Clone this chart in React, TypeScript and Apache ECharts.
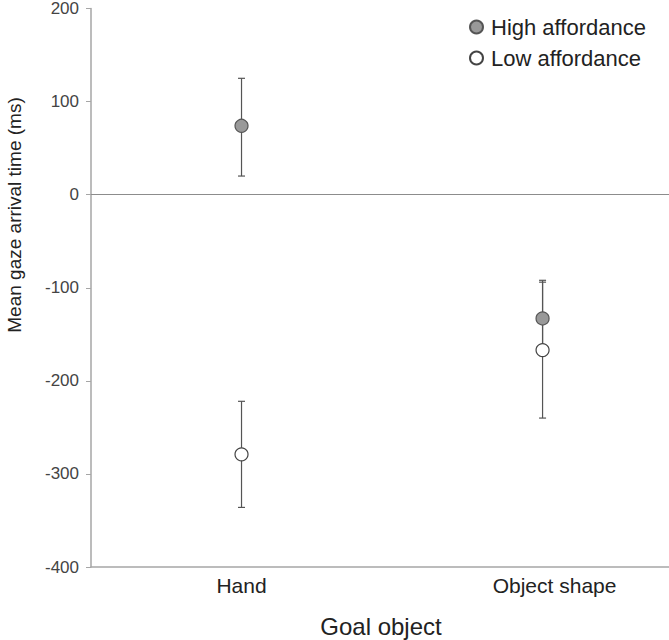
import React, { useEffect, useRef } from "react";
import * as echarts from "echarts";

const categories = ["Hand", "Object shape"];
const seriesNames = ["High affordance", "Low affordance"];
const highMeans = [74, -133];
const highLower = [20, -173];
const highUpper = [125, -92];
const lowMeans = [-279, -167];
const lowLower = [-336, -240];
const lowUpper = [-222, -94];
const yTicks = { min: -400, max: 200, interval: 100 };

const FONT = "'Liberation Sans', Arial, sans-serif";

export default function App() {
  const ref = useRef<HTMLDivElement>(null);
  useEffect(() => {
    if (!ref.current) return;
    const chart = echarts.init(ref.current, null, { renderer: "svg" });
    const errData = (lo: number[], hi: number[]) =>
      categories.map((_, i) => [i, lo[i], hi[i]]);
    const renderErr = (params: any, api: any) => {
      const x = api.value(0);
      const top = api.coord([x, api.value(2)]);
      const bot = api.coord([x, api.value(1)]);
      const cap = 3.5;
      const style = { stroke: "#555", lineWidth: 1.2 };
      return {
        type: "group",
        children: [
          { type: "line", shape: { x1: top[0], y1: top[1], x2: bot[0], y2: bot[1] }, style },
          { type: "line", shape: { x1: top[0] - cap, y1: top[1], x2: top[0] + cap, y2: top[1] }, style },
          { type: "line", shape: { x1: bot[0] - cap, y1: bot[1], x2: bot[0] + cap, y2: bot[1] }, style },
        ],
      };
    };
    chart.setOption({
      animation: false,
      textStyle: { fontFamily: FONT },
      grid: { left: 91, top: 5, right: 0, bottom: 73 },
      legend: {
        orient: "vertical",
        left: 464,
        top: 11,
        itemWidth: 13,
        itemHeight: 13,
        itemGap: 9,
        icon: "circle",
        data: seriesNames,
        textStyle: { fontSize: 22, color: "#222", fontFamily: FONT, padding: [0, 0, 0, 3] },
      },
      xAxis: {
        type: "value",
        min: -0.5,
        max: 1.42,
        position: "bottom",
        axisLine: { onZero: false, lineStyle: { color: "#a6a6a6", width: 1.5 } },
        axisTick: { show: false },
        splitLine: { show: false },
        axisLabel: {
          customValues: [0, 1],
          showMinLabel: true,
          showMaxLabel: true,
          fontSize: 21,
          color: "#222",
          margin: 8,
          fontFamily: FONT,
          formatter: (v: number) => {
            const name = categories[Math.round(v)] ?? "";
            return Math.round(v) === 1 ? "{o|" + name + "}" : name;
          },
          rich: { o: { padding: [0, 0, 0, 24], fontSize: 21, color: "#222", fontFamily: FONT } },
        },
      },
      yAxis: {
        type: "value",
        min: yTicks.min,
        max: yTicks.max,
        interval: yTicks.interval,
        position: "left",
        axisLine: { show: true, onZero: false, lineStyle: { color: "#a6a6a6", width: 1.5 } },
        axisTick: { show: true, inside: false, length: 5, lineStyle: { color: "#a6a6a6" } },
        splitLine: { show: false },
        axisLabel: { fontSize: 17, color: "#444", margin: 12, fontFamily: FONT },
      },
      graphic: [
        {
          type: "text",
          x: 14,
          y: 215,
          rotation: Math.PI / 2,
          style: {
            text: "Mean gaze arrival time (ms)",
            fontSize: 19,
            fill: "#222",
            fontFamily: FONT,
            textAlign: "center",
            textVerticalAlign: "middle",
          },
        },
        {
          type: "text",
          x: 381,
          y: 626,
          style: {
            text: "Goal object",
            fontSize: 24,
            fill: "#222",
            fontFamily: FONT,
            textAlign: "center",
            textVerticalAlign: "middle",
          },
        },
      ],
      series: [
        {
          type: "custom",
          name: "errHigh",
          renderItem: renderErr,
          data: errData(highLower, highUpper),
          encode: { x: 0, y: [1, 2] },
          z: 1,
          silent: true,
          markLine: {
            silent: true,
            symbol: "none",
            label: { show: false },
            lineStyle: { color: "#8c8c8c", width: 1.2, type: "solid" },
            data: [{ yAxis: 0 }],
          },
        },
        {
          type: "custom",
          name: "errLow",
          renderItem: renderErr,
          data: errData(lowLower, lowUpper),
          encode: { x: 0, y: [1, 2] },
          z: 1,
          silent: true,
        },
        {
          type: "scatter",
          name: seriesNames[0],
          data: categories.map((c, i) => [i, highMeans[i]]),
          symbol: "circle",
          symbolSize: 13,
          itemStyle: { color: "#999999", borderColor: "#555", borderWidth: 1.2, opacity: 1 },
          z: 5,
        },
        {
          type: "scatter",
          name: seriesNames[1],
          data: categories.map((c, i) => [i, lowMeans[i]]),
          symbol: "circle",
          symbolSize: 13,
          itemStyle: { color: "#ffffff", borderColor: "#444", borderWidth: 1.2, opacity: 1 },
          z: 6,
        },
      ],
    });
    return () => chart.dispose();
  }, []);
  return (
    <div
      ref={ref}
      style={{ position: "fixed", left: 0, top: 0, width: 669, height: 640, background: "#fff" }}
    />
  );
}
